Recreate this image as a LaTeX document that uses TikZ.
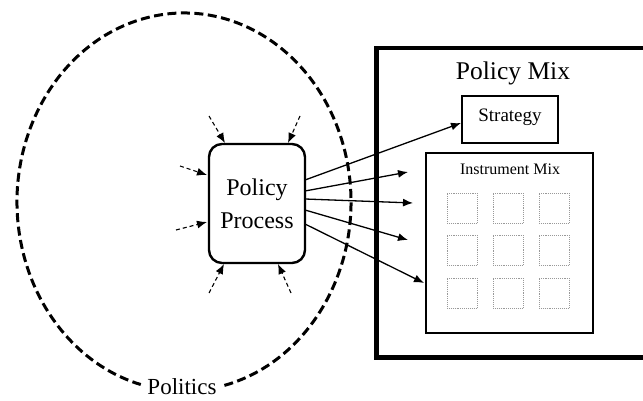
\documentclass[tikz,border=0pt]{standalone}
\usepackage{fontspec}
\setmainfont{Liberation Serif}
\usetikzlibrary{arrows.meta}
\tikzset{
  ppbox/.style={draw, line width=2.4pt, rounded corners=13pt, minimum width=96pt, minimum height=119pt, align=center, inner sep=0pt, font=\fontsize{24}{33}\selectfont},
  mixbox/.style={draw, line width=4.5pt},
  stratbox/.style={draw, line width=1.8pt, minimum width=96pt, minimum height=47pt, inner sep=0pt},
  instbox/.style={draw, line width=1.3pt, minimum width=167pt, minimum height=180pt, inner sep=0pt},
  cell/.style={draw=gray!80, densely dotted, line width=0.9pt, minimum size=30pt, inner sep=0pt},
  arr/.style={line width=1.3pt, -{Latex[length=10pt,width=8pt]}},
  din/.style={line width=1.1pt, dash pattern=on 4pt off 3pt, -{Latex[length=10pt,width=8pt]}},
  polit/.style={line width=3pt, dash pattern=on 9pt off 4.5pt},
  lbl/.style={inner sep=0pt, anchor=base}
}
\begin{document}
\begin{tikzpicture}[x=1pt,y=-1pt]
\useasboundingbox (0,0) rectangle (643,401);
\clip (0,0) rectangle (643,401);
\fill[white] (0,0) rectangle (643,401);
% politics ellipse (with a gap for the label)
\coordinate (ec) at (184,202);
\draw[polit] (ec) ++({167*cos(76)},{189*sin(76)}) arc[start angle=76, end angle=-255, x radius=167, y radius=189];
\node[lbl, font=\fontsize{23}{26}\selectfont] (politics) at (182,394) {Politics};
% policy process
\node[ppbox] (pp) at (257,203.5) {Policy\\Process};
% policy mix
\node[mixbox, minimum width=300pt, minimum height=309pt, anchor=north west, inner sep=0pt] (pm) at (374,46) {};
\node[lbl, font=\fontsize{25.5}{28}\selectfont] (pmt) at (513,80) {Policy Mix};
\node[stratbox] (strat) at (510,119.5) {};
\node[lbl, font=\fontsize{19}{22}\selectfont] (stratt) at (510,122) {Strategy};
\node[instbox] (inst) at (509.5,243) {};
\node[lbl, font=\fontsize{16}{19}\selectfont] (instt) at (510,175) {Instrument Mix};
\foreach \cx [count=\i] in {462,508,554}{
  \foreach \cy [count=\j] in {208,250,293}{
    \node[cell] (c\i\j) at (\cx,\cy) {};
  }
}
% output arrows
\coordinate (s1) at (305,180);
\coordinate (s2) at (305,191);
\coordinate (s3) at (305,199);
\coordinate (s4) at (305,210);
\coordinate (s5) at (305,224);
\coordinate (t1) at (461,123);
\coordinate (t2) at (408,172);
\coordinate (t3) at (413,203);
\coordinate (t4) at (408,240);
\coordinate (t5) at (424,283);
\foreach \k in {1,...,5}{ \draw[arr] (s\k) -- (t\k); }
% dashed input arrows
\coordinate (a1) at (209,116); \coordinate (b1) at (225,143);
\coordinate (a2) at (300,116); \coordinate (b2) at (288,143);
\coordinate (a3) at (180,166); \coordinate (b3) at (207,175);
\coordinate (a4) at (176,230); \coordinate (b4) at (207,222);
\coordinate (a5) at (209,293); \coordinate (b5) at (224,264);
\coordinate (a6) at (291,293); \coordinate (b6) at (278,264);
\foreach \k in {1,...,6}{ \draw[din] (a\k) -- (b\k); }
\end{tikzpicture}
\end{document}
